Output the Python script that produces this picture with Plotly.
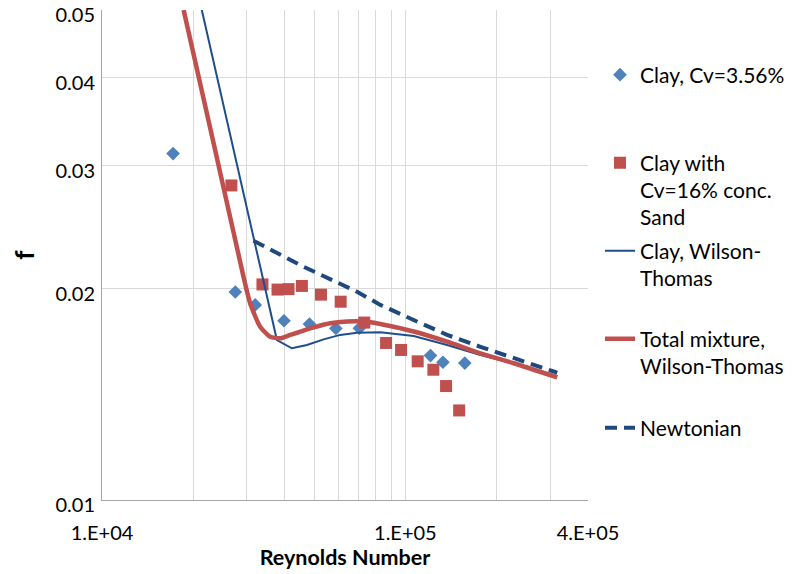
import math
import plotly.graph_objects as go

# ---------------- data ----------------
clay_re = [17150, 27500, 32000, 39800, 48300, 59000, 70500, 121000, 133000, 157000]
clay_f = [0.0312, 0.0198, 0.01898, 0.01802, 0.01782, 0.01757, 0.01758, 0.01607, 0.01572, 0.01568]

sand_re = [26700, 33800, 37900, 41200, 45600, 52700, 61200, 73200, 86400, 96800,
           109800, 123700, 136200, 150400]
sand_f = [0.0281, 0.0203, 0.01996, 0.01999, 0.0202, 0.01963, 0.01918, 0.01791, 0.01675, 0.01637,
          0.01577, 0.01534, 0.01454, 0.01342]

wt_clay_re = [21330, 37720, 42270, 47380, 53750, 61000, 69280, 82700, 106500, 137300,
              176800, 216600, 316700]
wt_clay_f = [0.05, 0.01691, 0.01646, 0.01664, 0.01695, 0.0172, 0.01732, 0.01735, 0.01714, 0.01664,
             0.0161, 0.01575, 0.01503]

wt_mix_re = [18580, 23600, 29270, 30780, 33220, 35840, 38680, 41730, 43910, 49830, 56550,
             64200, 72850, 82700, 106500, 137300, 176800, 227700, 316700]
wt_mix_f = [0.05, 0.03158, 0.02082, 0.01908, 0.01767, 0.0171, 0.01701, 0.0172, 0.01732, 0.01763,
            0.01787, 0.01797, 0.01797, 0.01783, 0.01739, 0.01682, 0.01619, 0.01567, 0.01496]

newt_re = [31580, 45600, 69300, 82700, 106500, 137300, 176800, 227700, 316700]
newt_f = [0.02344, 0.02157, 0.01982, 0.01898, 0.01806, 0.0172, 0.01654, 0.01593, 0.01519]

x_tickvals = [1e4, 1e5, 4e5]
x_ticktext = ["1.E+04", "1.E+05", "4.E+05"]
x_minor = [2e4, 3e4, 4e4, 5e4, 6e4, 7e4, 8e4, 9e4, 2e5, 3e5]
y_tickvals = [0.01, 0.02, 0.03, 0.04, 0.05]
y_ticktext = ["0.01", "0.02", "0.03", "0.04", "0.05"]

names = [
    "Clay, Cv=3.56%",
    "Clay with<br>Cv=16% conc.<br>Sand",
    "Clay, Wilson-<br>Thomas",
    "Total mixture,<br>Wilson-Thomas",
    "Newtonian",
]

FONT = "Lato, 'Open Sans', sans-serif"
GRID = "#D9D9D9"
AXIS = "#A6A6A6"

X_RANGE = [math.log10(1e4), math.log10(4e5) + 1e-9]
Y_RANGE = [math.log10(0.01), math.log10(0.05) + 1e-9]

fig = go.Figure()

fig.add_trace(go.Scatter(
    x=clay_re, y=clay_f, mode="markers", name=names[0], legend="legend",
    marker=dict(symbol="diamond", size=10.5, color="#4F81BD"),
))
fig.add_trace(go.Scatter(
    x=sand_re, y=sand_f, mode="markers", name=names[1], legend="legend2",
    marker=dict(symbol="square", size=12, color="#C0504D"),
))
fig.add_trace(go.Scatter(
    x=wt_clay_re, y=wt_clay_f, mode="lines", name=names[2], legend="legend3",
    line=dict(color="#1F4E8C", width=2),
))
fig.add_trace(go.Scatter(
    x=wt_mix_re, y=wt_mix_f, mode="lines", name=names[3], legend="legend4",
    line=dict(color="#C0504D", width=4.5, shape="spline", smoothing=0.6),
))
fig.add_trace(go.Scatter(
    x=newt_re, y=newt_f, mode="lines", name=names[4], legend="legend5",
    line=dict(color="#1F497D", width=4, dash="12px,7px"),
))


def leg(ypix):
    top = ypix - 19.5
    return dict(
        x=(600 - 102) / 486, y=(500 - top) / 490, xanchor="left", yanchor="top",
        valign="top", bgcolor="rgba(0,0,0,0)", borderwidth=0,
        font=dict(family=FONT, size=21, color="#000000"),
    )


fig.update_layout(
    width=792, height=574,
    margin=dict(l=102, r=204, t=10, b=74, autoexpand=False),
    paper_bgcolor="white", plot_bgcolor="white",
    font=dict(family=FONT, size=20, color="#000000"),
    showlegend=True,
    legend=leg(74), legend2=leg(162), legend3=leg(250), legend4=leg(338), legend5=leg(427),
    xaxis=dict(
        type="log", range=X_RANGE,
        tickmode="array", tickvals=x_tickvals, ticktext=x_ticktext,
        ticks="", showgrid=True, gridcolor=GRID, gridwidth=1,
        showline=True, linecolor=AXIS, linewidth=1,
        ticklabelstandoff=15, ticklabeloverflow="allow",
        tickfont=dict(family=FONT, size=20),
        minor=dict(tickmode="array", tickvals=x_minor, showgrid=True,
                   gridcolor=GRID, gridwidth=1, ticks=""),
        title=dict(text="Reynolds Number", font=dict(family=FONT, size=21.5, weight="bold"),
                   standoff=1),
        zeroline=False,
    ),
    yaxis=dict(
        type="log", range=Y_RANGE,
        tickmode="array", tickvals=y_tickvals, ticktext=y_ticktext,
        ticks="", showgrid=True, gridcolor=GRID, gridwidth=1,
        showline=True, linecolor=AXIS, linewidth=1,
        ticklabelstandoff=2, ticklabelshift=5, ticklabeloverflow="allow",
        tickfont=dict(family=FONT, size=20),
        title=dict(text="f", font=dict(family=FONT, size=26, weight="bold"), standoff=13),
        zeroline=False,
    ),
    xaxis2=dict(
        type="log", range=X_RANGE, overlaying="x", anchor="y", side="bottom",
        tickmode="array", tickvals=[1e4, 1e5], ticks="outside", ticklen=8,
        tickcolor=AXIS, tickwidth=1, showticklabels=False, showgrid=False,
        showline=False, zeroline=False,
    ),
    yaxis2=dict(
        type="log", range=Y_RANGE, overlaying="y", anchor="x", side="left",
        tickmode="array", tickvals=[0.01], ticks="outside", ticklen=7,
        tickcolor=AXIS, tickwidth=1, showticklabels=False, showgrid=False,
        showline=False, zeroline=False,
    ),
)

fig.write_html("out.html", config={"displayModeBar": False},
               post_script="document.body.style.margin='0px';")
